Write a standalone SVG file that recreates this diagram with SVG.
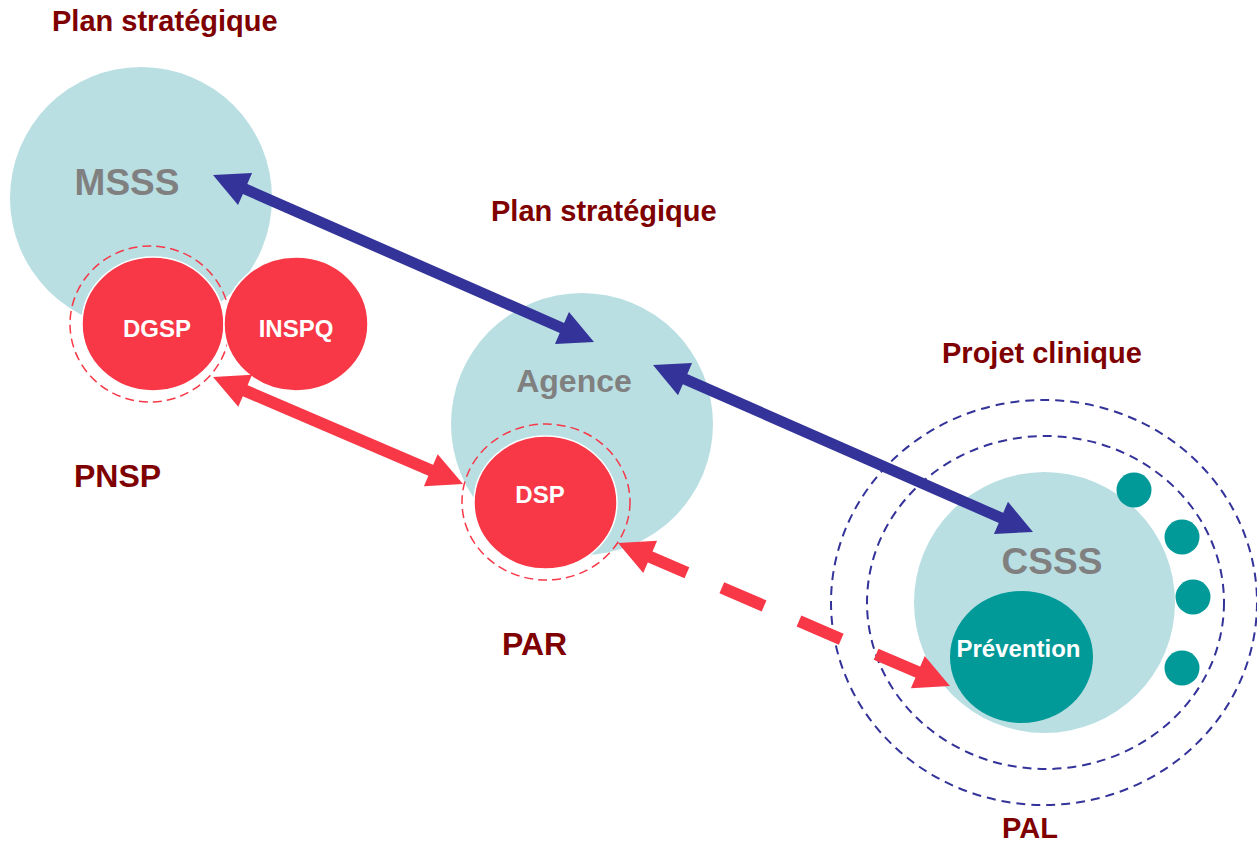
<svg xmlns="http://www.w3.org/2000/svg" width="1257" height="842" viewBox="0 0 1257 842">
  <style>
    .zone { fill: #b9dfe3; }
    .unit { fill: #f83747; stroke: #ffffff; stroke-width: 1.5; }
    .prev { fill: #029a98; }
    .dot { fill: #029a98; }
    .ring-red { fill: none; stroke: #f83747; stroke-width: 1.5; stroke-dasharray: 9 5; }
    .ring-blue { fill: none; stroke: #333399; stroke-width: 2; stroke-dasharray: 9 6; }
    .big { font-family: "Liberation Sans", Arial, sans-serif; font-weight: bold; fill: #808080; text-anchor: middle; }
    .inner { font-family: "Liberation Sans", Arial, sans-serif; font-weight: bold; font-size: 24px; fill: #ffffff; text-anchor: middle; }
    .plan { font-family: "Liberation Sans", Arial, sans-serif; font-weight: bold; fill: #7f0000; }
    .link-blue { fill: none; stroke: #333399; stroke-width: 11; }
    .link-red { fill: none; stroke: #f83747; stroke-width: 12; }
  </style>
  <defs>
    <marker id="headBlue" markerUnits="userSpaceOnUse" viewBox="0 -18 36 36" markerWidth="36" markerHeight="36" refX="10" refY="0" orient="auto-start-reverse" overflow="visible">
      <path d="M0,-17.5 L35,0 L0,17.5 Z" fill="#333399"/>
    </marker>
    <marker id="headRed" markerUnits="userSpaceOnUse" viewBox="0 -18 36 36" markerWidth="36" markerHeight="36" refX="10" refY="0" orient="auto-start-reverse" overflow="visible">
      <path d="M0,-17.5 L35,0 L0,17.5 Z" fill="#f83747"/>
    </marker>
  </defs>

  <rect width="1257" height="842" fill="#ffffff"/>

  <!-- Ministry level -->
  <g id="msss">
    <circle class="zone" cx="141" cy="198" r="131"/>
    <text class="big" x="127" y="195" font-size="37">MSSS</text>
  </g>
  <g id="dgsp">
    <ellipse class="ring-red" cx="150" cy="324" rx="80" ry="78"/>
    <ellipse class="unit" cx="153" cy="324" rx="71" ry="67"/>
    <text class="inner" x="157" y="337">DGSP</text>
  </g>
  <g id="inspq">
    <ellipse class="unit" cx="296" cy="324" rx="72" ry="67"/>
    <text class="inner" x="296" y="337">INSPQ</text>
  </g>

  <!-- Regional agency -->
  <g id="agence">
    <circle class="zone" cx="582" cy="424" r="131"/>
    <text class="big" x="574" y="392" font-size="32">Agence</text>
  </g>
  <g id="dsp">
    <ellipse class="ring-red" cx="546" cy="502" rx="84" ry="78"/>
    <ellipse class="unit" cx="545.5" cy="502.5" rx="71.5" ry="66.5"/>
    <text class="inner" x="540" y="503">DSP</text>
  </g>

  <!-- Local network -->
  <g id="reseau-local">
    <ellipse class="ring-blue" cx="1044" cy="602.5" rx="213" ry="202.5"/>
    <ellipse class="ring-blue" cx="1045.5" cy="602.5" rx="178.5" ry="166.5"/>
  </g>
  <g id="csss">
    <circle class="zone" cx="1044.5" cy="602.5" r="130.5"/>
    <text class="big" x="1052" y="574" font-size="37">CSSS</text>
  </g>
  <g id="partenaires">
    <circle class="dot" cx="1134" cy="490" r="17.5"/>
    <circle class="dot" cx="1182" cy="537" r="17.5"/>
    <circle class="dot" cx="1193" cy="597" r="17.5"/>
    <circle class="dot" cx="1182" cy="668" r="17.5"/>
  </g>
  <g id="prevention">
    <ellipse class="prev" cx="1021.5" cy="657" rx="71.5" ry="66"/>
    <text class="inner" x="1018.5" y="657">Prévention</text>
  </g>

  <!-- Plan labels -->
  <g id="labels">
    <text class="plan" x="52" y="31" font-size="29">Plan stratégique</text>
    <text class="plan" x="491" y="221" font-size="29">Plan stratégique</text>
    <text class="plan" x="942" y="363" font-size="29">Projet clinique</text>
    <text class="plan" x="74" y="487" font-size="32">PNSP</text>
    <text class="plan" x="502" y="655" font-size="32">PAR</text>
    <text class="plan" x="1002" y="838" font-size="29">PAL</text>
  </g>

  <!-- Connectors -->
  <g id="connectors">
    <path class="link-blue" d="M235.9,185 L571.1,332" marker-start="url(#headBlue)" marker-end="url(#headBlue)"/>
    <path class="link-blue" d="M675.9,375.1 L1010.1,521.9" marker-start="url(#headBlue)" marker-end="url(#headBlue)"/>
    <path class="link-red" d="M236,386.8 L440,474.2" marker-start="url(#headRed)" marker-end="url(#headRed)"/>
    <path class="link-red" d="M641,552.9 L927,676.1" stroke-dasharray="50 38 46 38 46 38 60" marker-start="url(#headRed)" marker-end="url(#headRed)"/>
  </g>
</svg>
